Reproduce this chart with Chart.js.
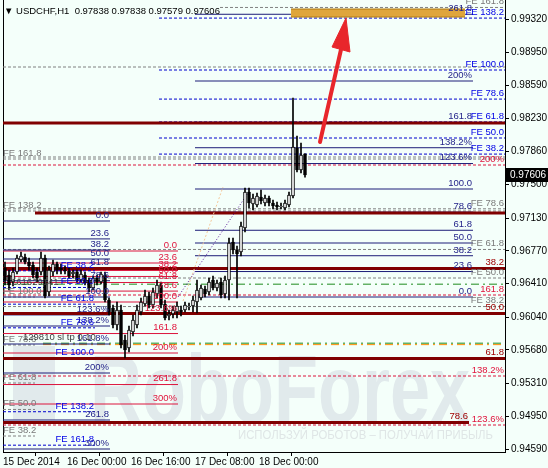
<!DOCTYPE html>
<html><head><meta charset="utf-8">
<script src="https://cdn.jsdelivr.net/npm/chart.js@4/dist/chart.umd.min.js"></script>
<style>html,body{margin:0;padding:0;background:#F4FFFA;}#wrap{width:548px;height:468px;}</style>
</head><body><div id="wrap"><canvas id="c" width="548" height="468"></canvas></div>
<script>
// ---------- DATA ----------
const symbolTitle = 'USDCHF,H1';
const timeTicks = [0, 16, 32, 48, 64];
const timeLabels = ['15 Dec 2014', '16 Dec 00:00', '16 Dec 16:00', '17 Dec 08:00', '18 Dec 00:00'];
const priceTicks = [0.99320,0.98950,0.98590,0.98230,0.97860,0.97500,0.97130,0.96770,0.96410,0.96040,0.95680,0.95310,0.94950,0.94590];
const priceMin = 0.94557, priceMax = 0.99529, timeMin = 0, timeMax = 125.5;

const opens = [.96581,.96504,.96427,.96537,.96669,.96702,.96647,.96614,.96537,.96537,
.96691,.96317,.96537,.96625,.96581,.96559,.96548,.96515,.96537,.96449,
.96504,.96449,.96361,.96471,.96427,.96504,.96229,.96141,.95954,.96119,
.95789,.95701,.95877,.95954,.96097,.96185,.96273,.96174,.96295,.96394,
.96185,.96053,.96075,.96097,.96119,.96119,.96152,.96163,.96207,.96251,
.96350,.96317,.96449,.96361,.96427,.96295,.96449,.96867,.96779,.96757,
.97021,.97417,.97285,.97274,.97362,.97296,.97351,.97296,.97274,.97252,
.97241,.97274,.97373,.97901,.97659,.97838];
const highs = [.96647,.96559,.96581,.96724,.96757,.96735,.96691,.96647,.96581,.96757,
.96724,.96603,.96669,.96647,.96625,.96603,.96581,.96559,.96559,.96559,
.96537,.96471,.96493,.96504,.96537,.96537,.96251,.96174,.96207,.96174,
.95844,.95943,.96064,.96174,.96251,.96339,.96317,.96361,.96449,.96427,
.96229,.96119,.96163,.96207,.96163,.96207,.96196,.96273,.96449,.96394,
.96383,.96471,.96493,.96449,.96471,.96493,.96911,.96911,.96823,.97087,
.97461,.97461,.97395,.97406,.97439,.97384,.97373,.97329,.97307,.97296,
.97329,.97417,.98451,.98033,.97956,.97838];
const lows = [.96394,.96339,.96383,.96515,.96647,.96625,.96559,.96471,.96427,.96504,
.96251,.96273,.96493,.96515,.96515,.96515,.96471,.96471,.96427,.96427,
.96394,.96317,.96339,.96394,.96405,.96207,.96064,.95921,.95899,.95701,
.95591,.95657,.95833,.95921,.96064,.96163,.96141,.96141,.96251,.96141,
.96009,.96009,.96031,.96031,.96053,.96097,.96119,.96097,.96086,.96229,
.96262,.96284,.96339,.96328,.96251,.96251,.96229,.96735,.96251,.96713,
.96977,.97241,.97219,.97252,.97285,.97263,.97263,.97230,.97219,.97230,
.97219,.97252,.97351,.97637,.97626,.97579];
const closes = [.96449,.96394,.96537,.96691,.96713,.96647,.96603,.96504,.96471,.96691,
.96273,.96559,.96625,.96559,.96559,.96548,.96493,.96537,.96449,.96515,
.96416,.96361,.96471,.96427,.96515,.96229,.96097,.95954,.96119,.95734,
.95679,.95899,.96009,.96119,.96207,.96273,.96174,.96317,.96394,.96174,
.96031,.96075,.96119,.96163,.96097,.96174,.96163,.96229,.96339,.96361,
.96295,.96427,.96361,.96416,.96284,.96449,.96856,.96779,.96735,.97043,
.97417,.97296,.97351,.97373,.97318,.97351,.97296,.97263,.97252,.97263,
.97296,.97384,.97912,.97659,.97824,.97606];

// Fibonacci / expansion levels
const navyLeftTexts = ['0.0','23.6','38.2','50.0','61.8','78.6','100.0','123.6%','138.2%','161.8%','200%','261.8','300%'];
const navyLeftPrices = [0.97098,0.96901,0.96779,0.96680,0.96581,0.96441,0.96262,0.96065,0.95943,0.95745,0.95426,0.94909,0.94590];
const navyLeftSpan = [0, 26.75];

const navyRightTexts = ['0.0','23.6','38.2','50.0','61.8','78.6','100.0','123.6%','138.2%','161.8','200%','261.8'];
const navyRightPrices = [0.96262,0.96542,0.96716,0.96856,0.96996,0.97196,0.97450,0.97730,0.97904,0.98184,0.98638,0.99372];
const navyRightSpan = [48, 117.5];

const crimsonTexts = ['0.0','23.6','38.2','50.0','61.8','78.6','100.0','123.6%','161.8','200%','261.8','300%'];
const crimsonPrices = [0.96768,0.96636,0.96554,0.96488,0.96421,0.96327,0.96207,0.96075,0.95860,0.95646,0.95299,0.95085];
const crimsonSpan = [0, 43.75];

const maroonTexts = ['','','38.2','50.0','61.8','78.6'];
const maroonPrices = [0.98176,0.97187,0.96575,0.96081,0.95586,0.94882];
const maroonStarts = [0, 8, 0, 0, 0, 0];
const maroonEnds = [125.5, 125.5, 125.5, 125.5, 125.5, 116.5];

const redDashTexts = ['200%','161.8','138.2%','123.6%'];
const redDashPrices = [0.97714,0.96284,0.95393,0.94854];
const redDashSpan = [0, 125.5];

const blueRightTexts = ['FE 38.2','FE 50.0','FE 61.8','FE 78.6','FE 100.0','FE 138.2'];
const blueRightPrices = [0.97834,0.98011,0.98188,0.98439,0.98759,0.99330];
const blueRightSpan = [39, 125.5];

const blueLeftTexts = ['FE 38.2','FE 50.0','FE 61.8','FE 78.6','FE 100.0','FE 138.2','FE 161.8'];
const blueLeftPrices = [0.96550,0.96367,0.96183,0.95923,0.95591,0.95000,0.94632];
const blueLeftSpan = [0, 23];

const greyRightTexts = ['FE 38.2','FE 50.0','FE 61.8','FE 78.6','','FE 161.8'];
const greyRightPrices = [0.96157,0.96471,0.96785,0.97232,0.97802,0.99447];
const greyRightStarts = [0, 0, 0, 0, 0, 54.25];
const greyRightEnd = 125.5;

const greyLeftTexts = ['FE 38.2','FE 50.0','FE 61.8','FE 78.6','FE 100.0','FE 138.2','FE 161.8',''];
const greyLeftPrices = [0.94733,0.95025,0.95316,0.95734,0.96262,0.97208,0.97780,0.98792];
const greyLeftEnds = [8, 8, 8, 8, 8, 125.5, 125.5, 125.5];

const greenPrices = [0.96403, 0.95754];
const greenStarts = [0, 10];
const orangePrices = [0.95738];
const orangeStarts = [10];

const bandTop = 0.99430, bandBottom = 0.99342, bandSpan = [72, 115.5];

const trendTimes = [43.75, 61.75], trendPrices = [0.96262, 0.97439];
const peachTimes = [45, 55], peachPrices = [0.96218, 0.97472];

const arrowShaftTimes = [79.25, 84.5], arrowShaftPrices = [0.97967, 0.98985];
const arrowHeadTimes = [82.25, 85.75, 86.75], arrowHeadPrices = [0.99012, 0.99331, 0.98957];

const noteTexts = ['161629141', '129810 sl tp 0.10'];
const noteTimes = [2, 5];
const notePrices = [0.96427, 0.95821];

// ---------- STYLES ----------
const FONT = '"Liberation Sans", Arial, "DejaVu Sans", sans-serif';
const STYLE = {
  maroon:  {color:'#800000', width:3, dash:[],        label:'#a00000', order:4},
  navy:    {color:'#1c1c78', width:1, dash:[],        label:'#24248a', order:5},
  crimson: {color:'#dc143c', width:1, dash:[],        label:'#e0143c', order:6},
  redDash: {color:'#dc143c', width:1, dash:[3,2],     label:'#e0143c', order:6},
  blue:    {color:'#0000cd', width:1, dash:[3,2],     label:'#0000e6', order:5},
  grey:    {color:'#808080', width:1, dash:[3,2],     label:'#7a7a7a', order:6},
  green:   {color:'#1e8c1e', width:1, dash:[8,4,2,4], label:'#1e8c1e', order:6},
  orange:  {color:'#ff8c00', width:1, dash:[8,4,2,4], label:'#ff8c00', order:6}
};

const groups = [
  {kind:'crimson', prices:crimsonPrices, texts:crimsonTexts, from:crimsonSpan[0], to:crimsonSpan[1]},
  {kind:'grey', prices:greyLeftPrices, texts:greyLeftTexts, from:0, to:greyLeftEnds, align:'start'},
  {kind:'grey', prices:greyRightPrices, texts:greyRightTexts, from:greyRightStarts, to:greyRightEnd},
  {kind:'redDash', prices:redDashPrices, texts:redDashTexts, from:redDashSpan[0], to:redDashSpan[1]},
  {kind:'green', prices:greenPrices, texts:null, from:greenStarts, to:125.5},
  {kind:'orange', prices:orangePrices, texts:null, from:orangeStarts, to:125.5},
  {kind:'navy', prices:navyLeftPrices, texts:navyLeftTexts, from:navyLeftSpan[0], to:navyLeftSpan[1]},
  {kind:'navy', prices:navyRightPrices, texts:navyRightTexts, from:navyRightSpan[0], to:navyRightSpan[1]},
  {kind:'blue', prices:blueLeftPrices, texts:blueLeftTexts, from:blueLeftSpan[0], to:blueLeftSpan[1]},
  {kind:'blue', prices:blueRightPrices, texts:blueRightTexts, from:blueRightSpan[0], to:blueRightSpan[1]},
  {kind:'maroon', prices:maroonPrices, texts:maroonTexts, from:maroonStarts, to:maroonEnds}
];

const pick = (v, i) => Array.isArray(v) ? v[i] : v;
const datasets = [];
const labelsToDraw = [];

groups.forEach(g => {
  const st = STYLE[g.kind];
  g.prices.forEach((p, i) => {
    const s = pick(g.from, i), e = pick(g.to, i);
    datasets.push({type:'line', data:[{x:s,y:p},{x:e,y:p}], borderColor:st.color, borderWidth:st.width,
      borderDash:st.dash, pointRadius:0, fill:false, order:st.order, tension:0});
    const t = g.texts ? g.texts[i] : '';
    if (t) labelsToDraw.push({text:t, x:(g.align === 'start' ? s : e), y:p, color:st.label, align:g.align || 'end'});
  });
});
noteTexts.forEach((t, i) => labelsToDraw.push({text:t, x:noteTimes[i], y:notePrices[i], color:'#3c3c3c', align:'start', mid:true}));

// band
datasets.push({type:'line', data:[{x:bandSpan[0],y:bandTop},{x:bandSpan[1],y:bandTop}], borderColor:'#b07a10', borderWidth:1, pointRadius:0, fill:false, order:3});
datasets.push({type:'line', data:[{x:bandSpan[0],y:bandBottom},{x:bandSpan[1],y:bandBottom}], borderColor:'#b07a10', borderWidth:1, pointRadius:0, fill:'-1', backgroundColor:'#dfa53c', order:3});

// trend lines
datasets.push({type:'line', data:trendTimes.map((t,i)=>({x:t,y:trendPrices[i]})), borderColor:'#5a1a9a', borderWidth:1, borderDash:[1,2], pointRadius:0, fill:false, order:3});
datasets.push({type:'line', data:peachTimes.map((t,i)=>({x:t,y:peachPrices[i]})), borderColor:'#f5c89a', borderWidth:1, borderDash:[2,2], pointRadius:0, fill:false, order:3});

// candles
const candleX = opens.map((o, i) => i + 0.5);
datasets.push({type:'bar', data:candleX.map((x,i)=>({x:x, y:[lows[i], highs[i]]})), backgroundColor:'#000', borderWidth:0,
  barThickness:1, grouped:false, order:2});
datasets.push({type:'bar', data:candleX.map((x,i)=>({x:x, y:[Math.min(opens[i],closes[i]), Math.max(opens[i],closes[i])]})),
  backgroundColor:opens.map((o,i)=> closes[i] >= o ? '#ffffff' : '#000000'), borderColor:'#000', borderWidth:1, borderSkipped:false,
  barThickness:3, grouped:false, minBarLength:1, order:1});

// arrow
datasets.push({type:'line', data:arrowShaftTimes.map((t,i)=>({x:t,y:arrowShaftPrices[i]})), borderColor:'#e8262b', borderWidth:4, pointRadius:0, fill:false, order:0, borderCapStyle:'round'});
datasets.push({type:'line', data:[0,1,2,0].map(k=>({x:arrowHeadTimes[k], y:arrowHeadPrices[k]})), borderColor:'#e8262b', borderWidth:1, pointRadius:0, fill:'shape', backgroundColor:'#e8262b', order:0});

// ---------- PLUGINS ----------
const bgPlugin = {id:'bg', beforeDraw(chart){ const c = chart.ctx; c.save(); c.fillStyle = '#F4FFFA'; c.fillRect(0,0,chart.width,chart.height); c.restore(); }};

const watermark = {id:'wm', beforeDatasetsDraw(chart){
  const c = chart.ctx; c.save();
  c.fillStyle = '#e1eaec';
  c.fillRect(13, 346, 42, 74);
  c.font = 'bold 96px "Liberation Sans Narrow", "Liberation Sans", Arial, sans-serif';
  const w = c.measureText('RoboForex').width;
  c.save(); c.translate(90, 422); c.scale(380 / w, 1);
  c.textBaseline = 'alphabetic'; c.fillText('RoboForex', 0, 0); c.restore();
  c.fillStyle = '#dfe6e6';
  c.font = '13px ' + FONT;
  const t = 'ИСПОЛЬЗУЙ РОБОТОВ – ПОЛУЧАЙ ПРИБЫЛЬ';
  const w2 = c.measureText(t).width;
  c.save(); c.translate(238, 439); c.scale(255 / w2, 1); c.fillText(t, 0, 0); c.restore();
  c.restore();
}};

const levelLabels = {id:'lvl', afterDatasetsDraw(chart){
  const c = chart.ctx, xs = chart.scales.x, ys = chart.scales.y;
  c.save(); c.font = '9.5px ' + FONT;
  labelsToDraw.forEach(l => {
    const px = xs.getPixelForValue(l.x), py = ys.getPixelForValue(l.y);
    c.fillStyle = l.color;
    c.textAlign = l.align === 'start' ? 'left' : 'right';
    c.textBaseline = l.mid ? 'middle' : 'bottom';
    c.fillText(l.text, l.align === 'start' ? px : px - 1, l.mid ? py : py - 1);
  });
  c.restore();
}};

const overlay = {id:'ov', afterDraw(chart){
  const c = chart.ctx, ys = chart.scales.y, area = chart.chartArea;
  const n = closes.length - 1;
  c.save();
  c.font = '9.5px ' + FONT; c.fillStyle = '#000'; c.textBaseline = 'middle'; c.textAlign = 'left';
  c.fillText('\u25BC USDCHF,H1  ' + [opens[n], highs[n], lows[n], closes[n]].map(v=>v.toFixed(5)).join(' '), 4, 11);
  const py = Math.round(ys.getPixelForValue(closes[n]));
  c.fillStyle = '#000'; c.fillRect(area.right + 1, py - 7, chart.width - area.right - 1, 14);
  c.fillStyle = '#fff'; c.font = '10px ' + FONT;
  c.fillText(closes[n].toFixed(5), area.right + 5, py + 0.5);
  c.restore();
}};

// ---------- CHART ----------
new Chart(document.getElementById('c'), {
  type: 'line',
  data: {datasets},
  plugins: [bgPlugin, watermark, levelLabels, overlay],
  options: {
    responsive:false, animation:false, devicePixelRatio:1,
    layout:{padding:{left:3, top:0, right:0, bottom:0}},
    plugins:{legend:{display:false}, tooltip:{enabled:false}, title:{display:false}},
    scales:{
      x:{type:'linear', min:timeMin, max:timeMax, offset:false, position:'bottom',
        afterBuildTicks(s){ s.ticks = timeTicks.map(v=>({value:v})); },
        afterFit(s){ s.height = 16; s.paddingLeft = 0; s.paddingRight = 0; },
        ticks:{autoSkip:false, maxRotation:0, align:'start', padding:0, color:'#000', font:{size:10, family:FONT},
          callback(v){ const k = timeTicks.indexOf(v); return k >= 0 ? timeLabels[k] : ''; }},
        grid:{drawOnChartArea:false, drawTicks:true, tickLength:4, color:'#000'},
        border:{display:true, color:'#000', width:1}},
      y:{type:'linear', min:priceMin, max:priceMax, position:'right', beginAtZero:false,
        afterBuildTicks(s){ s.ticks = priceTicks.map(v=>({value:v})); },
        afterFit(s){ s.width = 43; s.paddingTop = 0; s.paddingBottom = 0; },
        ticks:{autoSkip:false, padding:2, color:'#000', font:{size:10, family:FONT}, callback(v){ return Number(v).toFixed(5); }},
        grid:{drawOnChartArea:false, drawTicks:true, tickLength:4, color:'#000'},
        border:{display:true, color:'#000', width:1}},
      yl:{type:'linear', min:priceMin, max:priceMax, position:'left',
        afterFit(s){ s.width = 0; s.paddingTop = 0; s.paddingBottom = 0; },
        ticks:{display:false}, grid:{drawOnChartArea:false, drawTicks:false},
        border:{display:true, color:'#000', width:1}}
    }
  }
});
</script></body></html>
